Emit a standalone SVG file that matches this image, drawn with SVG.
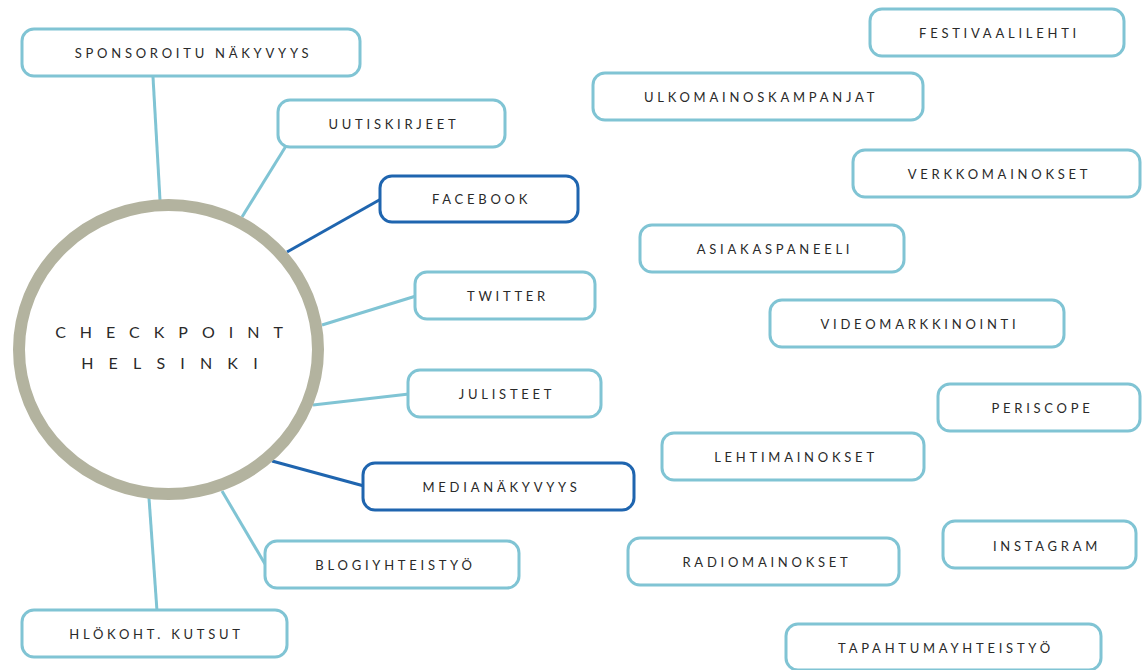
<svg xmlns="http://www.w3.org/2000/svg" width="1142" height="670" viewBox="0 0 1142 670">
<style>
.box{fill:#fff;stroke:#80c4d4;stroke-width:3}
.dark{stroke:#1f65af}
.lbl{font-family:Lato,"Open Sans",sans-serif;font-size:13px;letter-spacing:3.75px;fill:#2a2a2a;text-anchor:middle}
.hub{font-family:Lato,"Open Sans",sans-serif;font-size:16px;fill:#2a2a2a;text-anchor:middle}
.c{stroke:#80c4d4;stroke-width:3;fill:none}
.cd{stroke:#1f65af;stroke-width:3;fill:none}
</style>
<rect width="1142" height="670" fill="#fff"/>
<g id="connectors">
<line class="c" x1="153" y1="77" x2="160" y2="200"/>
<line class="c" x1="286" y1="146" x2="242" y2="217"/>
<line class="cd" x1="381" y1="199" x2="287" y2="252"/>
<line class="c" x1="416" y1="296" x2="322" y2="325"/>
<line class="c" x1="409" y1="394" x2="313" y2="405"/>
<line class="cd" x1="364" y1="486" x2="272" y2="461"/>
<line class="c" x1="265" y1="564" x2="222" y2="491"/>
<line class="c" x1="157" y1="611" x2="149" y2="498"/>
</g>
<g id="hub">
<ellipse cx="168.5" cy="349.5" rx="149.5" ry="144.5" fill="#fff" stroke="#b3b39f" stroke-width="12"/>
<text class="hub" x="176" y="337.5" letter-spacing="14">CHECKPOINT</text>
<text class="hub" x="177" y="368.5" letter-spacing="15.2">HELSINKI</text>
</g>
<g id="n-sponsoroitu"><rect class="box" x="22" y="29" width="338" height="47" rx="12"/><text class="lbl" x="193.5" y="58">SPONSOROITU NÄKYVYYS</text></g>
<g id="n-uutiskirjeet"><rect class="box" x="278" y="100" width="227" height="47" rx="12"/><text class="lbl" x="394" y="129">UUTISKIRJEET</text></g>
<g id="n-facebook"><rect class="box dark" x="380" y="176" width="198" height="46" rx="12"/><text class="lbl" x="481.5" y="204">FACEBOOK</text></g>
<g id="n-twitter"><rect class="box" x="415" y="272" width="180" height="47" rx="12"/><text class="lbl" x="508" y="301">TWITTER</text></g>
<g id="n-julisteet"><rect class="box" x="408" y="370" width="193" height="47" rx="12"/><text class="lbl" x="507" y="399">JULISTEET</text></g>
<g id="n-medianakyvyys"><rect class="box dark" x="363" y="463" width="271" height="47" rx="12"/><text class="lbl" x="501.5" y="492">MEDIANÄKYVYYS</text></g>
<g id="n-blogiyhteistyo"><rect class="box" x="265" y="541" width="254" height="47" rx="12"/><text class="lbl" x="395.5" y="570">BLOGIYHTEISTYÖ</text></g>
<g id="n-hlokoht"><rect class="box" x="22" y="610" width="265" height="47" rx="12"/><text class="lbl" x="156.5" y="639">HLÖKOHT. KUTSUT</text></g>
<g id="n-festivaalilehti"><rect class="box" x="870" y="9" width="254" height="47" rx="12"/><text class="lbl" x="999.5" y="38">FESTIVAALILEHTI</text></g>
<g id="n-ulkomainos"><rect class="box" x="593" y="73" width="330" height="47" rx="12"/><text class="lbl" x="761" y="102">ULKOMAINOSKAMPANJAT</text></g>
<g id="n-verkkomainokset"><rect class="box" x="853" y="150" width="287" height="47" rx="12"/><text class="lbl" x="999.5" y="179">VERKKOMAINOKSET</text></g>
<g id="n-asiakaspaneeli"><rect class="box" x="640" y="225" width="264" height="47" rx="12"/><text class="lbl" x="775" y="254">ASIAKASPANEELI</text></g>
<g id="n-videomarkkinointi"><rect class="box" x="770" y="300" width="294" height="47" rx="12"/><text class="lbl" x="920" y="329">VIDEOMARKKINOINTI</text></g>
<g id="n-periscope"><rect class="box" x="938" y="384" width="202" height="47" rx="12"/><text class="lbl" x="1042.5" y="413">PERISCOPE</text></g>
<g id="n-lehtimainokset"><rect class="box" x="662" y="433" width="262" height="47" rx="12"/><text class="lbl" x="796" y="462">LEHTIMAINOKSET</text></g>
<g id="n-instagram"><rect class="box" x="943" y="521" width="193" height="47" rx="12"/><text class="lbl" x="1047" y="551">INSTAGRAM</text></g>
<g id="n-radiomainokset"><rect class="box" x="628" y="538" width="271" height="47" rx="12"/><text class="lbl" x="767" y="567">RADIOMAINOKSET</text></g>
<g id="n-tapahtumayhteistyo"><rect class="box" x="786" y="624" width="315" height="46" rx="12"/><text class="lbl" x="946" y="653">TAPAHTUMAYHTEISTYÖ</text></g>
</svg>
